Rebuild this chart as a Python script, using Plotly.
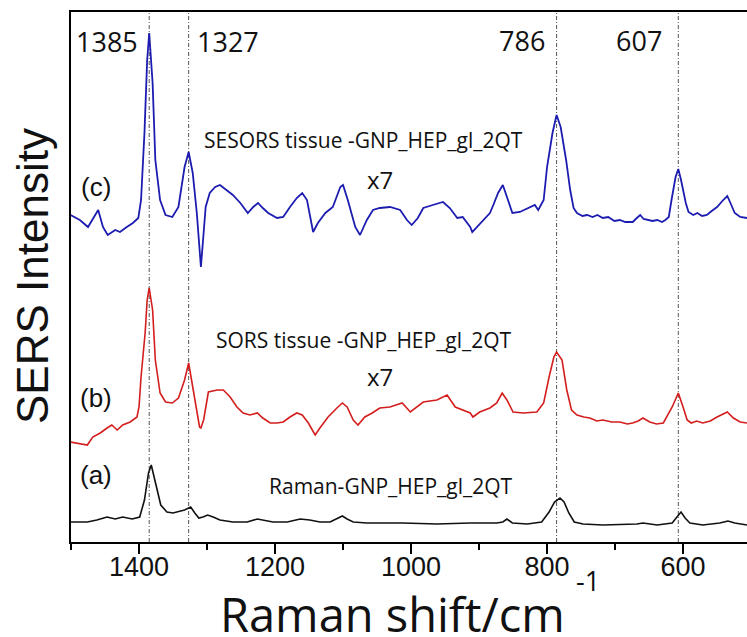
import plotly.graph_objects as go

# Raman shift (cm^-1) and offset intensity (a.u.) for each spectrum
wn_c = [1501, 1487, 1475, 1460, 1453, 1446, 1435, 1428, 1418, 1409, 1401, 1397, 1392, 1388, 1385,
        1380, 1376, 1369, 1361, 1351, 1342, 1333, 1327, 1321, 1315, 1311, 1309, 1305, 1302, 1296,
        1288, 1281, 1271, 1262, 1251, 1240, 1232, 1225, 1218, 1210, 1197, 1188, 1178, 1168, 1160,
        1153, 1144, 1137, 1126, 1115, 1104, 1100, 1093, 1082, 1075, 1065, 1056, 1046, 1031, 1016,
        1006, 999, 990, 982, 968, 953, 943, 932, 924, 913, 910, 903, 894, 884, 879,
        872, 865, 857, 851, 840, 825, 818, 813, 805, 800, 792, 786, 780, 772, 766,
        761, 756, 748, 741, 733, 726, 718, 710, 701, 693, 685, 674, 668, 663, 658,
        653, 645, 638, 631, 626, 621, 617, 611, 607, 603, 596, 592, 585, 579, 572,
        565, 558, 550, 541, 535, 531, 524, 516, 506]
int_c = [327, 322, 315, 332, 315, 307, 312, 310, 315, 319, 324, 342, 409, 482, 509,
         459, 382, 342, 327, 325, 335, 375, 390, 369, 329, 289, 275, 309, 335, 349,
         355, 357, 352, 347, 339, 329, 335, 339, 334, 329, 324, 325, 335, 344, 349,
         342, 310, 319, 329, 335, 355, 357, 342, 315, 307, 322, 332, 334, 335, 332,
         322, 317, 324, 334, 337, 340, 334, 324, 325, 315, 310, 315, 322, 329, 337,
         349, 357, 342, 329, 330, 335, 337, 332, 342, 375, 409, 427, 415, 382, 352,
         334, 329, 326, 327, 325, 327, 324, 325, 321, 322, 320, 320, 324, 327, 323,
         322, 321, 322, 320, 322, 325, 342, 365, 373, 362, 339, 330, 327, 329, 326,
         327, 331, 335, 342, 346, 340, 329, 325, 324]

wn_b = [1501, 1491, 1476, 1468, 1457, 1447, 1440, 1432, 1424, 1413, 1403, 1400, 1397, 1391, 1388,
        1385, 1380, 1376, 1369, 1361, 1351, 1342, 1333, 1327, 1321, 1315, 1311, 1309, 1305, 1300,
        1298, 1285, 1276, 1266, 1256, 1247, 1237, 1226, 1218, 1207, 1197, 1188, 1178, 1168, 1160,
        1151, 1141, 1134, 1122, 1109, 1101, 1094, 1085, 1078, 1068, 1057, 1046, 1031, 1013, 1001,
        982, 962, 947, 935, 925, 913, 909, 899, 884, 874, 866, 859, 850, 835, 815,
        805, 797, 790, 786, 778, 771, 764, 756, 746, 737, 727, 718, 705, 693, 682,
        674, 666, 659, 649, 639, 629, 616, 607, 600, 594, 588, 580, 571, 560, 550,
        535, 526, 516, 506]
int_b = [100, 99, 97, 105, 109, 114, 117, 112, 117, 120, 125, 135, 165, 209, 242,
         254, 232, 182, 149, 140, 139, 144, 162, 179, 155, 132, 115, 114, 122, 142,
         150, 152, 152, 145, 135, 129, 127, 129, 124, 119, 119, 120, 125, 129, 127,
         119, 107, 114, 125, 134, 139, 135, 122, 117, 125, 129, 134, 135, 139, 130,
         140, 142, 147, 135, 132, 129, 125, 130, 134, 139, 149, 142, 130, 129, 130,
         139, 165, 185, 190, 182, 152, 132, 127, 125, 124, 121, 122, 120, 120, 118,
         119, 121, 124, 120, 118, 119, 135, 149, 135, 122, 119, 121, 119, 121, 125,
         130, 124, 120, 119]

wn_a = [1501, 1476, 1462, 1447, 1435, 1424, 1410, 1399, 1392, 1386, 1382, 1376, 1368, 1359, 1350,
        1333, 1324, 1318, 1312, 1306, 1299, 1291, 1281, 1262, 1241, 1226, 1218, 1203, 1182, 1163,
        1149, 1134, 1119, 1109, 1101, 1094, 1085, 1065, 1012, 962, 913, 874, 865, 859, 851,
        829, 808, 797, 789, 781, 775, 768, 760, 747, 718, 668, 659, 638, 616, 609,
        603, 597, 590, 571, 546, 534, 524, 506]
int_a = [20, 20, 22, 25, 23, 25, 23, 25, 42, 69, 77, 59, 37, 30, 29,
         32, 35, 29, 24, 25, 27, 25, 22, 20, 20, 23, 22, 20, 20, 23,
         22, 20, 20, 23, 26, 23, 20, 19, 19, 18, 19, 19, 20, 23, 19,
         18, 20, 30, 40, 44, 40, 29, 20, 18, 17, 18, 19, 17, 19, 25,
         30, 24, 19, 17, 19, 21, 19, 17]

# Marked band positions (cm^-1)
bands = [1385, 1327, 786, 607]

x_ticks = [1400, 1200, 1000, 800, 600]
x_range = [1500, 506]

W, H = 747, 637
L, R, T, B = 71, 0, 12, 95
PW, PH = W - L - R, H - T - B


def paper(px, py):
    """Pixel position on the page -> paper coordinates."""
    return (px - L) / PW, (H - B - py) / PH


fig = go.Figure()
fig.add_trace(go.Scatter(x=wn_c, y=int_c, mode="lines",
                         line=dict(color="#1c1cb0", width=1.8), showlegend=False))
fig.add_trace(go.Scatter(x=wn_b, y=int_b, mode="lines",
                         line=dict(color="#d41e1e", width=1.6), showlegend=False))
# the bottom spectrum sits on the overlay axis that carries the tick marks
fig.add_trace(go.Scatter(x=wn_a, y=int_a, mode="lines", xaxis="x2",
                         line=dict(color="#111111", width=1.6), showlegend=False))

for b in bands:
    fig.add_shape(type="line", xref="x", yref="paper", x0=b, x1=b, y0=0, y1=1,
                  line=dict(color="#555555", width=1, dash="4px,2px,1px,2px"), layer="below")

sans = "Open Sans"
arial = "Arial, Liberation Sans, sans-serif"

notes = [
    ("1385", 107, 42, sans, 27),
    ("1327", 228, 42, sans, 27),
    ("786", 522, 41, sans, 27),
    ("607", 639, 41, sans, 27),
    ("(c)", 96, 187, arial, 26),
    ("(b)", 96, 398, arial, 26),
    ("(a)", 96, 475, arial, 26),
    ("SESORS tissue -GNP_HEP_gl_2QT", 363, 140, sans, 21),
    ("x7", 380, 179, sans, 24),
    ("SORS tissue -GNP_HEP_gl_2QT", 364, 340, sans, 21),
    ("x7", 380, 376, sans, 24),
    ("Raman-GNP_HEP_gl_2QT", 391, 486, sans, 21),
]
for text, px, py, fam, size in notes:
    xp, yp = paper(px, py)
    fig.add_annotation(x=xp, y=yp, xref="paper", yref="paper", text=text, showarrow=False,
                       xanchor="center", yanchor="middle",
                       font=dict(family=fam, size=size, color="#111111"))

# Axis titles
xp, yp = paper(32, 276)
fig.add_annotation(x=xp, y=yp, xref="paper", yref="paper", text="SERS Intensity",
                   textangle=-90, showarrow=False, xanchor="center", yanchor="middle",
                   font=dict(family=arial, size=44, color="#111111"))
xp, yp = paper(392, 614)
fig.add_annotation(x=xp, y=yp, xref="paper", yref="paper", text="Raman shift/cm",
                   showarrow=False, xanchor="center", yanchor="middle",
                   font=dict(family=sans, size=47, color="#111111"))
xp, yp = paper(588, 580)
fig.add_annotation(x=xp, y=yp, xref="paper", yref="paper", text="-1",
                   showarrow=False, xanchor="center", yanchor="middle",
                   font=dict(family=sans, size=27, color="#111111"))

fig.update_layout(
    width=W, height=H,
    margin=dict(l=L, r=R, t=T, b=B, pad=0),
    paper_bgcolor="white", plot_bgcolor="white",
    # labelled axis (no tick marks of its own)
    xaxis=dict(range=x_range, tickvals=x_ticks, ticktext=[str(v) for v in x_ticks],
               ticks="", ticklabelstandoff=0,
               showline=True, linewidth=2, linecolor="black", mirror=True,
               showgrid=False, zeroline=False,
               tickfont=dict(family=arial, size=27, color="#111111")),
    # overlay axis drawing the major and minor tick marks
    xaxis2=dict(range=x_range, overlaying="x", anchor="y", side="bottom",
                tickvals=x_ticks, showticklabels=False,
                ticks="outside", ticklen=11, tickwidth=2, tickcolor="black",
                minor=dict(dtick=100, tick0=0, ticks="outside", ticklen=7, tickwidth=2,
                           tickcolor="black", showgrid=False),
                showline=False, showgrid=False, zeroline=False),
    yaxis=dict(range=[0, 530], showticklabels=False, ticks="", showline=True,
               linewidth=2, linecolor="black", showgrid=False, zeroline=False),
)

fig.write_html("out.html")
